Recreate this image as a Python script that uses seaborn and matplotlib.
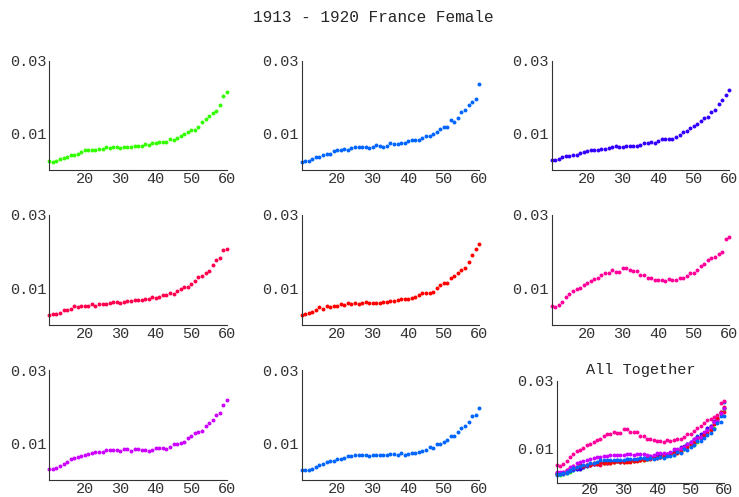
import matplotlib
matplotlib.use("Agg")
import matplotlib.pyplot as plt
import seaborn as sns
import numpy as np
import pandas as pd
from matplotlib.ticker import MultipleLocator

# Alter 10..60, Sterbewahrscheinlichkeiten je Jahrgang 1913-1920
ages = list(range(10, 61))

q1913 = [0.00255, 0.0021, 0.0025, 0.0029, 0.0032, 0.0036, 0.0042, 0.0041, 0.0045, 0.0049,
         0.0054, 0.0055, 0.0056, 0.0056, 0.0057, 0.0058, 0.0062, 0.0060, 0.0062, 0.0062,
         0.0060, 0.0062, 0.0062, 0.0062, 0.0065, 0.0065, 0.0067, 0.0070, 0.0069, 0.0074,
         0.0075, 0.0076, 0.0077, 0.0077, 0.0085, 0.0082, 0.0089, 0.0094, 0.0098, 0.0105,
         0.0109, 0.0111, 0.0118, 0.0132, 0.0140, 0.0147, 0.0157, 0.0161, 0.0179, 0.0202,
         0.0215]
q1914 = [0.0022, 0.0025, 0.0025, 0.0029, 0.0035, 0.0037, 0.0041, 0.0043, 0.0045, 0.0051,
         0.0054, 0.0055, 0.0057, 0.0056, 0.0060, 0.0062, 0.0062, 0.0062, 0.0063, 0.0060,
         0.0064, 0.0068, 0.0067, 0.0064, 0.0066, 0.0073, 0.0070, 0.0070, 0.0075, 0.0074,
         0.0079, 0.0083, 0.0081, 0.0082, 0.0088, 0.0092, 0.0093, 0.0100, 0.0103, 0.0113,
         0.0119, 0.0119, 0.0138, 0.0131, 0.0144, 0.0158, 0.0166, 0.0179, 0.0188, 0.0195,
         0.0236]
q1915 = [0.0027, 0.0027, 0.0029, 0.0035, 0.0038, 0.0039, 0.0041, 0.0041, 0.0046, 0.0049,
         0.0052, 0.0055, 0.0055, 0.0056, 0.0059, 0.0057, 0.0061, 0.0064, 0.0065, 0.0062,
         0.0062, 0.0065, 0.0067, 0.0065, 0.0065, 0.0068, 0.0073, 0.0075, 0.0077, 0.0074,
         0.0079, 0.0085, 0.0085, 0.0085, 0.0085, 0.0090, 0.0095, 0.0103, 0.0107, 0.0114,
         0.0120, 0.0127, 0.0135, 0.0144, 0.0145, 0.0159, 0.0165, 0.0180, 0.0191, 0.0206,
         0.0220]
q1916 = [0.0027, 0.0029, 0.0029, 0.0034, 0.0040, 0.0042, 0.0045, 0.0051, 0.0050, 0.0052,
         0.0051, 0.0053, 0.0056, 0.0051, 0.0056, 0.0057, 0.0056, 0.0059, 0.0063, 0.0062,
         0.0061, 0.0064, 0.0065, 0.0065, 0.0068, 0.0067, 0.0068, 0.0072, 0.0070, 0.0077,
         0.0075, 0.0076, 0.0083, 0.0083, 0.0088, 0.0085, 0.0092, 0.0099, 0.0105, 0.0104,
         0.0112, 0.0121, 0.0132, 0.0135, 0.0143, 0.0146, 0.0163, 0.0177, 0.0183, 0.0205,
         0.0208]
q1917 = [0.0026, 0.0029, 0.0032, 0.0036, 0.0042, 0.0048, 0.0045, 0.0052, 0.0050, 0.0051,
         0.0052, 0.0056, 0.0055, 0.0060, 0.0057, 0.0059, 0.0058, 0.0059, 0.0063, 0.0061,
         0.0059, 0.0060, 0.0061, 0.0062, 0.0064, 0.0066, 0.0066, 0.0068, 0.0071, 0.0071,
         0.0072, 0.0074, 0.0077, 0.0082, 0.0086, 0.0086, 0.0088, 0.0091, 0.0102, 0.0108,
         0.0114, 0.0115, 0.0127, 0.0133, 0.0141, 0.0151, 0.0155, 0.0172, 0.0191, 0.0208,
         0.0221]
q1918 = [0.0052, 0.0050, 0.0054, 0.0063, 0.0076, 0.0084, 0.0092, 0.0097, 0.0101, 0.0110,
         0.0114, 0.0120, 0.0126, 0.0129, 0.0137, 0.0142, 0.0143, 0.0150, 0.0145, 0.0145,
         0.0156, 0.0156, 0.0149, 0.0148, 0.0148, 0.0137, 0.0137, 0.0128, 0.0128, 0.0124,
         0.0122, 0.0123, 0.0119, 0.0125, 0.0122, 0.0124, 0.0129, 0.0129, 0.0135, 0.0142,
         0.0142, 0.0151, 0.0160, 0.0167, 0.0176, 0.0183, 0.0186, 0.0193, 0.0200, 0.0234,
         0.0240]
q1919 = [0.0031, 0.0031, 0.0032, 0.0037, 0.0045, 0.0050, 0.0057, 0.0059, 0.0062, 0.0066,
         0.0068, 0.0072, 0.0075, 0.0076, 0.0077, 0.0077, 0.0082, 0.0081, 0.0081, 0.0081,
         0.0080, 0.0085, 0.0085, 0.0080, 0.0084, 0.0085, 0.0083, 0.0081, 0.0079, 0.0082,
         0.0086, 0.0086, 0.0086, 0.0085, 0.0090, 0.0098, 0.0098, 0.0102, 0.0105, 0.0114,
         0.0119, 0.0127, 0.0130, 0.0134, 0.0148, 0.0155, 0.0164, 0.0177, 0.0182, 0.0204,
         0.0218]
q1920 = [0.0026, 0.0026, 0.0027, 0.0031, 0.0036, 0.0042, 0.0045, 0.0049, 0.0051, 0.0052,
         0.0058, 0.0057, 0.0061, 0.0066, 0.0066, 0.0067, 0.0067, 0.0067, 0.0067, 0.0065,
         0.0067, 0.0068, 0.0069, 0.0068, 0.0068, 0.0071, 0.0071, 0.0068, 0.0073, 0.0068,
         0.0072, 0.0074, 0.0073, 0.0077, 0.0079, 0.0081, 0.0089, 0.0087, 0.0098, 0.0097,
         0.0105, 0.0110, 0.0121, 0.0121, 0.0132, 0.0141, 0.0146, 0.0158, 0.0174, 0.0177,
         0.0197]

years = [1913, 1914, 1915, 1916, 1917, 1918, 1919, 1920]
series = [q1913, q1914, q1915, q1916, q1917, q1918, q1919, q1920]
colors = ["#33ff00", "#0066ff", "#3300ff", "#ff004d", "#ff0000", "#ff0099", "#cc00ff", "#0066ff"]

W, H = 739, 497
col_x = [49.3, 301.7, 551.7]
row_y = [(60.7, 170), (215, 325), (370, 480)]
ax_w = 177.5

sns.set_style("white")
plt.rcParams["font.family"] = ["Liberation Mono", "DejaVu Sans Mono"]
plt.rcParams["font.size"] = 11


def style_axis(ax, xpad=1.5):
    ax.set_xlim(10, 60)
    ax.set_ylim(0, 0.03)
    for sp in ["top", "right"]:
        ax.spines[sp].set_visible(False)
    for sp in ["left", "bottom"]:
        ax.spines[sp].set_color("#333333")
        ax.spines[sp].set_linewidth(0.8)
    ax.set_xticks([20, 30, 40, 50, 60])
    ax.set_yticks([0.01, 0.03])
    ax.set_yticklabels(["0.01", "0.03"])
    ax.xaxis.set_minor_locator(MultipleLocator(2))
    ax.tick_params(axis="both", which="major", direction="in", length=3, width=0.6,
                   color="#333333", labelsize=11, labelcolor="#333333")
    ax.tick_params(axis="x", which="major", pad=xpad)
    ax.tick_params(axis="x", which="minor", direction="in", length=1.5, width=0.5, color="#333333")
    ax.tick_params(axis="y", which="major", direction="out", length=1.5, pad=0.5)
    ax.set_xlabel("")
    ax.set_ylabel("")
    ax.set_facecolor("none")


fig = plt.figure(figsize=(W / 100, H / 100), dpi=100)
fig.text(373 / W, 1 - 18 / H, "1913 - 1920 France Female", ha="center", va="center", fontsize=11.6)

for i, (vals, col) in enumerate(zip(series, colors)):
    r, c = divmod(i, 3)
    top, bot = row_y[r]
    ax = fig.add_axes([col_x[c] / W, 1 - bot / H, ax_w / W, (bot - top) / H])
    df = pd.DataFrame({"age": ages, "q": vals})
    sns.scatterplot(data=df, x="age", y="q", ax=ax, color=col, s=8, linewidth=0, clip_on=False)
    style_axis(ax)

# alle zusammen
ax = fig.add_axes([556.7 / W, 1 - 482.5 / H, 167.3 / W, 102 / H])
for vals, col in zip(series, colors):
    df = pd.DataFrame({"age": ages, "q": vals})
    sns.scatterplot(data=df, x="age", y="q", ax=ax, color=col, s=8, linewidth=0, clip_on=False)
style_axis(ax, xpad=0.5)
ax.set_title("All Together", fontsize=11, pad=5)

fig.savefig("out.png", dpi=100)
